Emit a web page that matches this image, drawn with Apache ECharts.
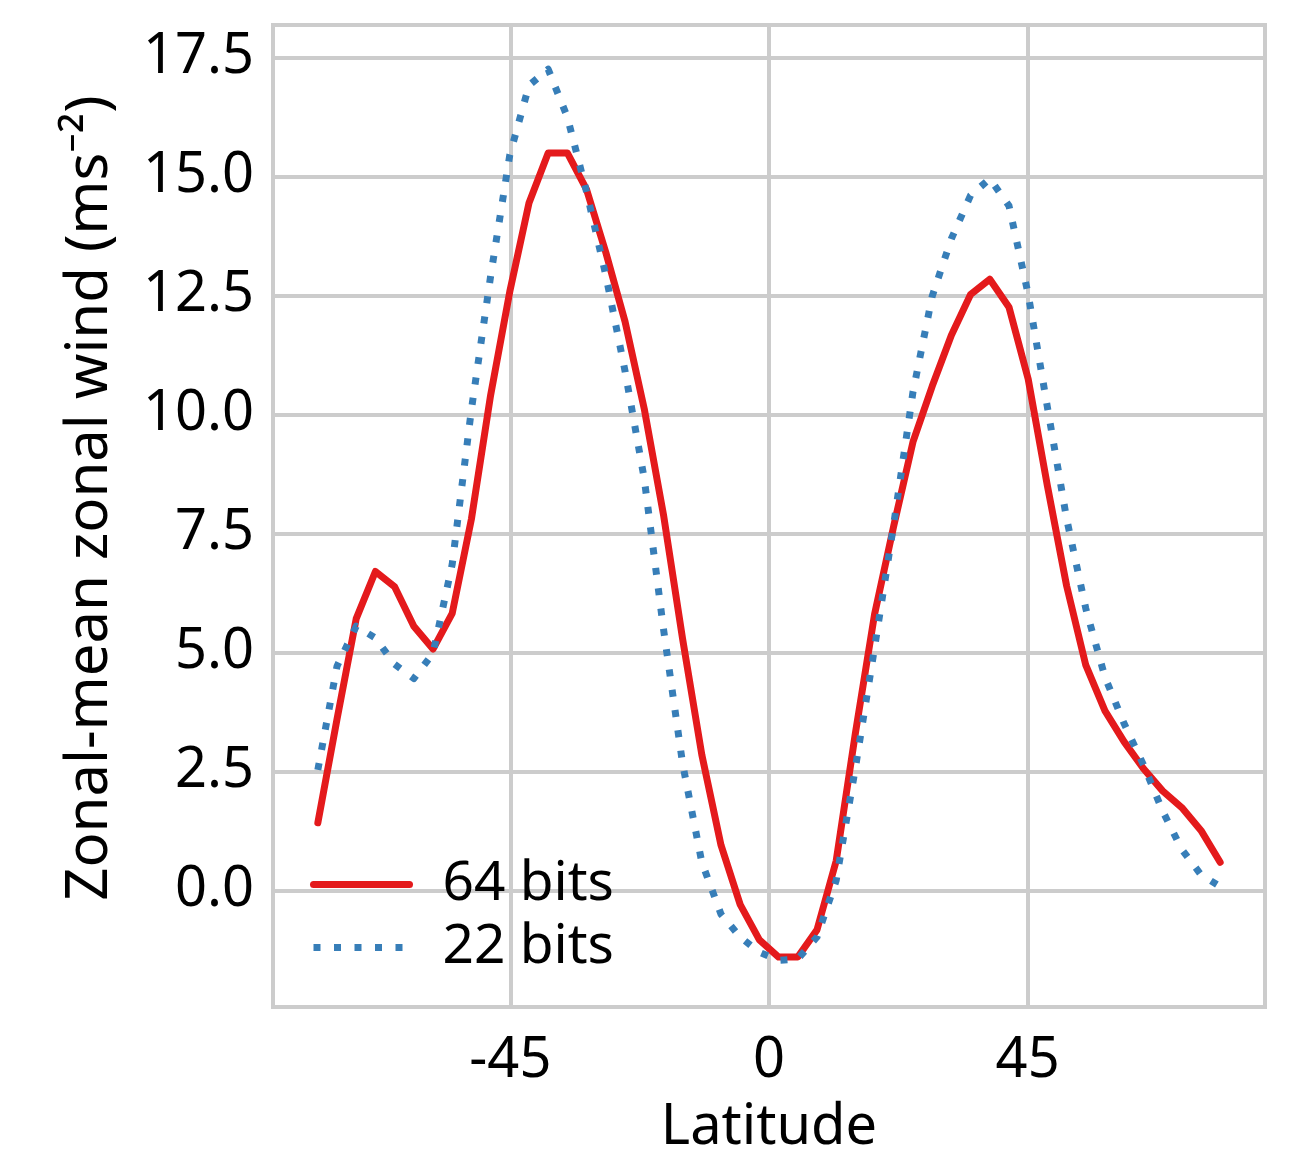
<!DOCTYPE html>
<html>
<head>
<meta charset="utf-8">
<script src="https://cdn.jsdelivr.net/npm/echarts@6/dist/echarts.min.js"></script>
<style>
  html, body { margin: 0; padding: 0; background: #fff; }
  #chart { width: 1294px; height: 1161px; }
</style>
</head>
<body>
<div id="chart"></div>
<script>
// latitudes of the model rows (degrees)
var latitudes = [-78.50, -75.16, -71.82, -68.48, -65.14, -61.80, -58.46, -55.12,
  -51.78, -48.44, -45.10, -41.76, -38.42, -35.07, -31.73, -28.39,
  -25.05, -21.71, -18.37, -15.03, -11.69, -8.35, -5.01, -1.67,
  1.67, 5.01, 8.35, 11.69, 15.03, 18.37, 21.71, 25.05,
  28.39, 31.73, 35.07, 38.42, 41.76, 45.10, 48.44, 51.78,
  55.12, 58.46, 61.80, 65.14, 68.48, 71.82, 75.16, 78.50];

// zonal-mean zonal wind, 64 bit run
var wind64 = [1.42, 3.6, 5.71, 6.70, 6.38, 5.55, 5.07, 5.82,
  7.8, 10.4, 12.58, 14.44, 15.49, 15.49, 14.72, 13.40,
  11.95, 10.12, 7.9, 5.28, 2.85, 0.95, -0.30, -1.04,
  -1.40, -1.40, -0.83, 0.62, 3.3, 5.8, 7.66, 9.42,
  10.59, 11.66, 12.52, 12.84, 12.25, 10.74, 8.5, 6.4,
  4.73, 3.77, 3.12, 2.56, 2.09, 1.74, 1.26, 0.59];

// same quantity, 22 bit run
var wind22 = [2.53, 4.71, 5.55, 5.3, 4.75, 4.45, 4.98, 6.85,
  10.1, 12.9, 15.45, 16.91, 17.25, 16.24, 14.67, 12.92,
  10.91, 8.65, 5.5, 2.66, 0.59, -0.50, -0.98, -1.30,
  -1.47, -1.44, -0.98, 0.21, 2.57, 5.1, 7.7, 10.47,
  12.48, 13.69, 14.6, 14.95, 14.38, 12.52, 10.15, 7.81,
  5.92, 4.48, 3.50, 2.64, 1.67, 0.86, 0.33, 0.08];

var xTicks = [-45, 0, 45];
var yTicks = [0, 2.5, 5, 7.5, 10, 12.5, 15, 17.5];

var FONT = 'Noto Sans';
var GRID = '#cccccc';
var RED = '#e41a1c';
var BLUE = '#377eb8';
var DOTS = [7, 13.5];

var chart = echarts.init(document.getElementById('chart'), null, { renderer: 'canvas' });

function pairs(vals) {
  return latitudes.map(function (x, i) { return [x, vals[i]]; });
}

chart.setOption({
  backgroundColor: '#ffffff',
  animation: false,
  grid: {
    left: 273, right: 29, top: 25, bottom: 151,
    show: true, borderColor: GRID, borderWidth: 4, backgroundColor: '#ffffff'
  },
  legend: {
    orient: 'vertical',
    left: 310, top: 857,
    padding: 0,
    itemWidth: 96, itemHeight: 14, itemGap: 8,
    itemStyle: { opacity: 0 },
    textStyle: { fontFamily: FONT, fontSize: 55, color: '#000', padding: [0, 0, 0, 28] },
    data: [
      { name: '64 bits', lineStyle: { color: RED, width: 7, cap: 'round' } },
      { name: '22 bits', lineStyle: { color: BLUE, width: 7, type: DOTS, cap: 'butt' } }
    ]
  },
  xAxis: {
    type: 'value',
    min: -86.3, max: 86.3,
    name: 'Latitude',
    nameLocation: 'middle',
    nameGap: 93,
    nameTextStyle: { fontFamily: FONT, fontSize: 56, color: '#000' },
    axisLine: { show: false },
    axisTick: { show: false, customValues: xTicks },
    axisLabel: { customValues: xTicks, margin: 26, fontFamily: FONT, fontSize: 56, color: '#000' },
    splitLine: { show: true, lineStyle: { color: GRID, width: 4 } }
  },
  yAxis: {
    type: 'value',
    min: -2.45, max: 18.18,
    name: 'Zonal-mean zonal wind (ms\u207B\u00B2)',
    nameLocation: 'middle',
    nameRotate: 90,
    nameGap: 154,
    nameTextStyle: { fontFamily: FONT, fontSize: 58, color: '#000', padding: [0, 0, 0, 36] },
    axisLine: { show: false },
    axisTick: { show: false, customValues: yTicks },
    axisLabel: {
      customValues: yTicks, margin: 19, fontFamily: FONT, fontSize: 56, color: '#000',
      formatter: function (v) { return v.toFixed(1); }
    },
    splitLine: { show: true, lineStyle: { color: GRID, width: 4 } }
  },
  series: [
    {
      name: '64 bits',
      type: 'line',
      data: pairs(wind64),
      symbol: 'none',
      color: RED,
      lineStyle: { color: RED, width: 7, cap: 'round', join: 'round' }
    },
    {
      name: '22 bits',
      type: 'line',
      data: pairs(wind22),
      symbol: 'none',
      color: BLUE,
      lineStyle: { color: BLUE, width: 7, type: DOTS, cap: 'butt', join: 'round' }
    }
  ]
});
</script>
</body>
</html>
